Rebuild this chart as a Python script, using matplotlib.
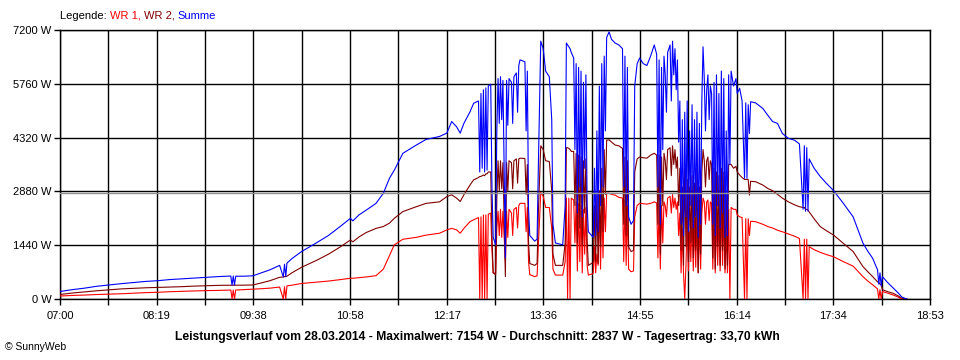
import matplotlib
matplotlib.use("Agg")
import matplotlib.pyplot as plt
import numpy as np

plt.rcParams['font.family'] = ['Liberation Sans', 'DejaVu Sans']

# minutes after 07:00
minutes = [
    0, 10, 20, 30, 40, 50, 60, 70, 80, 90,
    100, 110, 120, 130, 140, 141, 142, 143, 144, 150,
    158, 165, 172, 180, 183, 184, 185, 186, 190, 198,
    210, 220, 230, 238, 240, 245, 251, 259, 265, 270,
    274, 281, 292, 300, 311, 317, 321, 325, 328, 331,
    336, 339, 343, 344, 345, 346, 347, 348, 349, 350,
    351, 353, 354, 355, 357, 358, 359, 360, 361, 362,
    363, 365, 366, 367, 368, 370, 371, 372, 374, 375,
    376, 377, 381, 382, 383, 384, 385, 389, 391, 392,
    394, 396, 398, 401, 403, 404, 406, 412, 414, 415,
    416, 417, 418, 419, 421, 422, 423, 424, 425, 426,
    427, 428, 429, 430, 431, 432, 433, 437, 438, 439,
    440, 441, 442, 443, 444, 445, 446, 447, 448, 450,
    452, 455, 458, 461, 462, 463, 464, 465, 466, 468,
    470, 471, 473, 475, 478, 481, 484, 487, 489, 490,
    491, 492, 493, 494, 495, 496, 497, 498, 500, 501,
    502, 503, 504, 505, 506, 507, 508, 509, 510, 511,
    512, 513, 514, 515, 516, 517, 518, 519, 520, 521,
    522, 523, 524, 525, 526, 527, 528, 529, 530, 531,
    532, 533, 534, 535, 536, 537, 538, 539, 540, 541,
    542, 543, 544, 545, 546, 547, 548, 549, 550, 552,
    554, 555, 557, 559, 561, 562, 563, 564, 565, 566,
    570, 576, 580, 584, 588, 592, 597, 602, 606, 609,
    610, 611, 612, 613, 614, 618, 623, 628, 634, 642,
    650, 654, 658, 662, 666, 670, 671, 672, 673, 674,
    678, 683, 687, 690, 694,
]

summe_w = [
    200, 250, 290, 340, 375, 410, 440, 470, 490, 520,
    540, 560, 580, 600, 615, 370, 615, 370, 610, 610,
    620, 700, 780, 900, 590, 930, 600, 960, 1080, 1270,
    1500, 1700, 1950, 2160, 2090, 2250, 2380, 2560, 2830, 3230,
    3450, 3900, 4120, 4270, 4350, 4440, 4750, 4610, 4440, 4700,
    5010, 5240, 5300, 3400, 5500, 3500, 5600, 3400, 5650, 3450,
    5700, 5750, 3000, 1650, 1450, 4500, 5900, 4700, 5950, 4800,
    5850, 1100, 5850, 4650, 5900, 5800, 4700, 5950, 6050, 5000,
    6250, 6400, 6350, 4500, 6100, 2400, 1700, 1550, 1600, 3500,
    6900, 6700, 6100, 5950, 4800, 2000, 1500, 1450, 2500, 6850,
    6800, 6750, 6700, 6600, 6450, 4000, 6300, 2300, 6200, 3000,
    6100, 2200, 5800, 3500, 6000, 2500, 1800, 1650, 3500, 1700,
    4500, 1800, 5700, 2500, 6300, 3000, 6500, 4500, 7000, 7150,
    6950, 6850, 6800, 6700, 3000, 6500, 2500, 6200, 2200, 2000,
    2100, 5700, 6300, 6450, 6300, 6250, 6500, 6800, 6550, 3000,
    6400, 2000, 6200, 4000, 6500, 6000, 5000, 6600, 6800, 5300,
    6900, 6000, 6700, 5600, 6400, 4200, 5300, 2000, 4800, 1700,
    5000, 2200, 5300, 1800, 4500, 2500, 5200, 1900, 4800, 2200,
    5000, 1650, 4700, 2000, 5300, 6750, 5900, 4500, 5600, 6000,
    4800, 5700, 5500, 2000, 5800, 1700, 6000, 2500, 5500, 1900,
    6100, 2300, 5900, 1650, 4500, 1700, 6000, 3600, 6100, 5700,
    5900, 5500, 5640, 5300, 3230, 5250, 3230, 5200, 4430, 5280,
    5250, 5100, 4920, 4750, 4700, 4430, 4300, 4250, 4150, 2400,
    4100, 2350, 4050, 2350, 3750, 3500, 3280, 3100, 2900, 2560,
    2200, 1850, 1500, 1280, 1090, 780, 400, 700, 350, 600,
    450, 290, 160, 50, 0,
]

wr2_w = [
    120, 160, 190, 220, 245, 270, 285, 300, 310, 320,
    330, 345, 355, 365, 370, 370, 370, 370, 370, 370,
    375, 430, 490, 580, 590, 600, 600, 610, 700, 850,
    1030, 1200, 1400, 1580, 1530, 1660, 1780, 1890, 1940, 2030,
    2160, 2340, 2470, 2560, 2600, 2740, 2790, 2700, 2610, 2790,
    3050, 3190, 3250, 3280, 3280, 3300, 3320, 3300, 3350, 3350,
    3400, 3400, 1700, 700, 650, 2700, 3700, 2900, 3700, 2950,
    3650, 600, 3650, 2900, 3700, 3650, 2950, 3700, 3750, 3100,
    3750, 3770, 3760, 2800, 3600, 1500, 950, 900, 950, 2300,
    4100, 4000, 3700, 3680, 2900, 1200, 900, 900, 1500, 4050,
    4050, 4030, 4000, 3950, 3950, 2500, 3900, 1500, 3850, 1900,
    3800, 1450, 3700, 2300, 3750, 1600, 900, 980, 2500, 1000,
    2800, 950, 2900, 1400, 3500, 1800, 4000, 2800, 4250, 4260,
    4200, 4120, 4100, 4030, 2000, 3800, 1700, 3700, 1400, 1270,
    1300, 3400, 3750, 3800, 3780, 3770, 3850, 3900, 3850, 2000,
    3850, 1200, 3800, 2500, 3900, 3700, 3200, 4000, 4050, 3300,
    4100, 3600, 4000, 3500, 3800, 2500, 3500, 1300, 3000, 900,
    3500, 1400, 3200, 1000, 3000, 1500, 3300, 1100, 3100, 1300,
    3500, 700, 3000, 1200, 3400, 4000, 3700, 3000, 3700, 3800,
    3200, 3700, 3600, 1100, 3500, 800, 3400, 1400, 3300, 900,
    3500, 1300, 3400, 800, 2800, 900, 3600, 3600, 3600, 3500,
    3550, 3400, 3320, 3250, 3200, 3200, 3200, 3200, 2780, 3150,
    3140, 3050, 2960, 2900, 2800, 2700, 2600, 2520, 2470, 2450,
    2450, 2400, 2400, 2380, 2330, 2150, 1940, 1830, 1710, 1490,
    1270, 1070, 870, 730, 600, 460, 440, 400, 380, 250,
    200, 150, 80, 20, 0,
]

wr1_w = [
    80, 95, 105, 120, 130, 140, 155, 170, 180, 195,
    205, 215, 225, 230, 240, 0, 240, 0, 240, 250,
    265, 275, 290, 320, 0, 330, 0, 350, 370, 415,
    450, 480, 520, 555, 555, 570, 590, 625, 800, 1160,
    1450, 1600, 1650, 1710, 1760, 1850, 1890, 1850, 1760, 1890,
    2070, 2120, 2180, 0, 2200, 0, 2250, 0, 2250, 0,
    2270, 2300, 1300, 700, 690, 1900, 2350, 1700, 2400, 1650,
    2350, 1000, 2350, 1650, 2400, 2300, 1700, 2400, 2450, 1900,
    2500, 2560, 2560, 1800, 2450, 1000, 650, 600, 620, 1400,
    2850, 2750, 2450, 2450, 1900, 800, 640, 640, 1000, 2700,
    0, 2700, 0, 2700, 2650, 1500, 2600, 750, 2550, 1000,
    2500, 700, 2400, 1200, 2450, 900, 640, 680, 1400, 700,
    1200, 900, 2600, 800, 2700, 1100, 2700, 1800, 2830, 2830,
    2800, 2780, 2720, 2700, 1000, 2650, 900, 2500, 800, 730,
    750, 2200, 2500, 2560, 2550, 2540, 2560, 2600, 2570, 1100,
    2560, 800, 2500, 1500, 2600, 2500, 2200, 2700, 2750, 2300,
    2800, 2450, 2700, 2400, 2600, 1700, 2300, 700, 1900, 700,
    0, 900, 2200, 750, 1800, 1000, 2300, 750, 2100, 850,
    2200, 700, 2000, 800, 2300, 2700, 2600, 2000, 2600, 2650,
    2100, 2600, 2550, 800, 2400, 700, 2300, 900, 2300, 750,
    2400, 900, 2300, 700, 1800, 700, 2400, 0, 2450, 2400,
    2400, 2250, 2200, 2180, 0, 2150, 0, 2150, 1700, 2080,
    2070, 2000, 1940, 1900, 1840, 1800, 1740, 1680, 1620, 0,
    1600, 0, 1600, 0, 1400, 1320, 1250, 1190, 1130, 1000,
    880, 740, 600, 480, 380, 270, 0, 250, 0, 200,
    160, 105, 50, 0, 0,
]

y_ticks_w = [0, 1440, 2880, 4320, 5760, 7200]
x_tick_labels = ["07:00", "08:19", "09:38", "10:58", "12:17",
                 "13:36", "14:55", "16:14", "17:34", "18:53"]
span_min = 713          # 07:00 .. 18:53
average_w = 2837

title = ("Leistungsverlauf vom 28.03.2014 - Maximalwert: 7154 W - "
         "Durchschnitt: 2837 W - Tagesertrag: 33,70 kWh")

fig = plt.figure(figsize=(9.6, 3.6), dpi=100)
ax = fig.add_axes([60 / 960, 1 - 299 / 360, 870 / 960, 269 / 360])

ax.plot(minutes, wr1_w, color='#ff0000', lw=0.8, zorder=3)
ax.plot(minutes, wr2_w, color='#800000', lw=0.8, zorder=4)
ax.plot(minutes, summe_w, color='#0000ff', lw=0.8, zorder=5)
ax.axhline(average_w, color='#909090', lw=1.0, zorder=6)

ax.set_xlim(0, span_min)
ax.set_ylim(0, 7200)

x_ticks = np.linspace(0, span_min, 2 * len(x_tick_labels) - 1)
ax.set_xticks(x_ticks)
labels = []
for i in range(len(x_ticks)):
    labels.append(x_tick_labels[i // 2] if i % 2 == 0 else "")
ax.set_xticklabels(labels)
ax.set_yticks(y_ticks_w)
ax.set_yticklabels([f"{v} W" for v in y_ticks_w])

ax.grid(True, color='black', lw=1.0)
ax.set_axisbelow(True)
for s in ax.spines.values():
    s.set_color('black')
    s.set_linewidth(1.0)
ax.tick_params(axis='both', length=4, width=1.0, color='black', labelsize=8)
ax.tick_params(axis='x', pad=4.5)
ax.tick_params(axis='y', pad=2)

fig.text(0.497, 1 - 337 / 360, title, ha='center', va='center',
         fontsize=8.7, fontweight='bold')
fig.text(5 / 960, 1 - 347 / 360, "\u00a9 SunnyWeb", ha='left', va='center',
         fontsize=7.5)

# legend line at the top, coloured piece by piece
renderer = fig.canvas.get_renderer()
x_pos = 60 / 960
for txt, col in [("Legende: ", 'black'), ("WR 1, ", '#ff0000'),
                 ("WR 2, ", '#800000'), ("Summe", '#0000ff')]:
    t = fig.text(x_pos, 1 - 16 / 360, txt, color=col, fontsize=8,
                 ha='left', va='center')
    bb = t.get_window_extent(renderer=renderer)
    x_pos += bb.width / fig.bbox.width

fig.savefig("out.png", dpi=100)
